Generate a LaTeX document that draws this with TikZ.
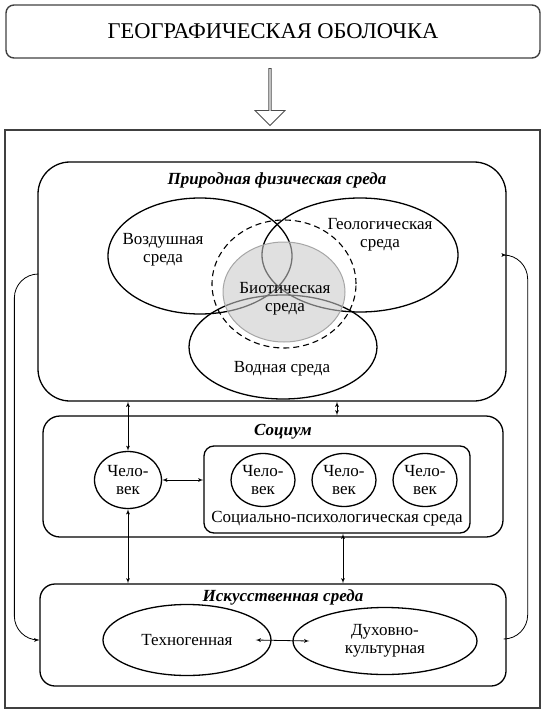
\documentclass[tikz,border=0pt]{standalone}
\usepackage{fontspec}
\setmainfont{Liberation Serif}
\usetikzlibrary{arrows,positioning,shapes}

\begin{document}
\begin{tikzpicture}[x=1pt,y=-1pt,every text node part/.style={align=center},
        font=\fontsize{17}{17.5}\selectfont,
        box/.style={draw,rectangle,rounded corners=#1,line width=1.3pt},
        box/.default=15pt,
        oval/.style={draw,ellipse,line width=1.3pt,inner sep=0pt},
        heading/.style={font=\fontsize{17}{18}\selectfont\bfseries\itshape},
        link/.style={draw,latex'-latex',line width=0.8pt},
        loop/.style={draw,-latex',line width=0.8pt,rounded corners=24pt}]
        \useasboundingbox (0,0) rectangle (549,719);

        \node[box=8pt,line width=1.4pt,draw=black!75,minimum width=534,minimum height=53,font=\fontsize{22.5}{24}\selectfont] (title) at (273,31.5) {ГЕОГРАФИЧЕСКАЯ ОБОЛОЧКА};
        \node[single arrow,draw=black!70,line width=0.8pt,shape border rotate=270,minimum height=57,minimum width=30,single arrow head extend=5,inner sep=0pt] (down) at (270,96.5) {};
        \node[draw=black!75,rectangle,line width=1.6pt,minimum width=535,minimum height=578] (frame) at (272.5,419) {};

        % природная среда
        \node[box=32pt,minimum width=468,minimum height=239] (nature) at (272,281.5) {};
        \node[heading] (naturehead) at (277,180) {Природная физическая среда};
        \node[oval,minimum width=184,minimum height=116] (air) at (200,256) {};
        \node[oval,minimum width=196,minimum height=114] (geo) at (360,255) {};
        \node[oval,minimum width=188,minimum height=104] (water) at (283,347) {};
        \node[draw,ellipse,dashed,dash pattern=on 6pt off 4pt,line width=1.1pt,minimum width=144,minimum height=128] (bio) at (284,284) {};
        \node[draw=black!35,ellipse,line width=1pt,fill=black!21,fill opacity=0.57,minimum width=122,minimum height=100] (biocore) at (284,292) {};
        \node (airtext) at (163,249.5) {Воздушная\\среда};
        \node (geotext) at (380,234.5) {Геологическая\\среда};
        \node (biotext) at (285,298.5) {Биотическая\\среда};
        \node (watertext) at (282,369) {Водная среда};

        % социум
        \node[box=17pt,minimum width=460,minimum height=121] (socium) at (273,476.5) {};
        \node[heading] (sociumhead) at (283,432) {Социум};
        \node[oval,minimum width=67,minimum height=57] (man) at (128,480) {Чело-\\век};
        \node[box=10pt,minimum width=266,minimum height=87] (group) at (337,489.5) {};
        \node[oval,minimum width=64,minimum height=53] (man1) at (263,480) {Чело-\\век};
        \node[oval,minimum width=64,minimum height=53] (man2) at (344,480) {Чело-\\век};
        \node[oval,minimum width=64,minimum height=53] (man3) at (425,480) {Чело-\\век};
        \node (grouptext) at (337,519) {Социально-психологическая среда};

        % искусственная среда
        \node[box=15pt,minimum width=466,minimum height=102] (art) at (273,635) {};
        \node[heading] (arthead) at (283,597) {Искусственная среда};
        \node[oval,minimum width=168,minimum height=71] (tech) at (187,640) {Техногенная};
        \node[oval,minimum width=184,minimum height=67] (spirit) at (385,641) {Духовно-\\культурная};

        \path[link] (man.north |- nature.south) -- (man.north);
        \path[link] (group.north |- nature.south) -- (group.north |- socium.north);
        \path[link] (man.east) -- (man.east -| group.west);
        \path[link] (man.south) -- (man.south |- art.north);
        \path[link] ([xshift=6pt]group.south) -- ([xshift=6pt]group.south |- art.north);
        \path[link] ([xshift=-16pt]tech.east) -- ([xshift=17pt]spirit.west);
        \path[loop] ([yshift=7.5pt]nature.west) -- ++(-23,0) |- (art.west |- tech.center);
        \path[loop] ([yshift=-4pt]art.east) -- ++(21,0) |- (nature.east |- geo.center);
\end{tikzpicture}
\end{document}
